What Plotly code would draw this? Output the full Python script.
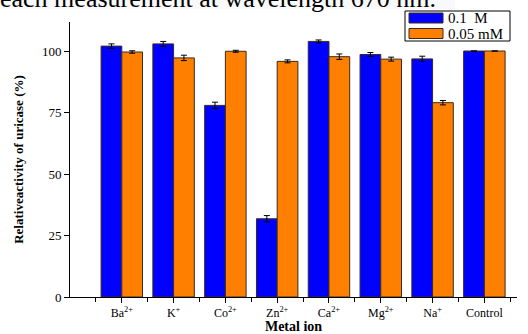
import plotly.graph_objects as go

categories = ["Ba<sup>2+</sup>", "K<sup>+</sup>", "Co<sup>2+</sup>", "Zn<sup>2+</sup>",
              "Ca<sup>2+</sup>", "Mg<sup>2+</sup>", "Na<sup>+</sup>", "Control"]
vals_01M = [102.0, 102.9, 77.9, 31.8, 103.9, 98.6, 96.8, 100.0]
err_01M = [0.9, 1.0, 1.3, 1.3, 0.6, 0.8, 1.1, None]
vals_005mM = [99.6, 97.2, 99.9, 95.8, 97.7, 96.7, 79.0, 100.0]
err_005mM = [0.5, 1.1, 0.4, 0.6, 1.1, 0.8, 0.9, None]
series_names = ["0.1  M", "0.05 mM"]
series_colors = ["#0000FF", "#FF8000"]
yticks = [0, 25, 50, 75, 100]

x = list(range(len(categories)))
serif = "Liberation Serif"
edge = "#3b2a1c"

# plot area geometry (pixels) used to convert decoration positions to paper coords
L, T, W, H = 70, 22, 447, 275
def px(xp):
    return (xp - L) / W
def py(yp):
    return (T + H - yp) / H

fig = go.Figure()
for vals, errs, name, col in [(vals_01M, err_01M, series_names[0], series_colors[0]),
                              (vals_005mM, err_005mM, series_names[1], series_colors[1])]:
    fig.add_trace(go.Bar(
        x=x, y=vals, name=name, showlegend=False, hoverinfo="skip",
        marker=dict(color=col, line=dict(color=edge, width=1)),
        error_y=dict(type="data", array=errs, color="black", thickness=1, width=3),
    ))

fig.update_layout(
    width=528, height=334,
    margin=dict(l=L, r=528 - L - W, t=T, b=334 - T - H, autoexpand=False),
    barmode="group", bargap=0.2, bargroupgap=0,
    plot_bgcolor="white", paper_bgcolor="white",
    font=dict(family=serif, color="black"),
    showlegend=False,
    xaxis=dict(
        range=[-1, 7.63], tickvals=x, ticktext=categories,
        showline=True, linecolor="black", linewidth=1,
        ticks="outside", ticklen=5, tickcolor="black",
        minor=dict(ticks="outside", tick0=0.5, dtick=1, ticklen=4, tickcolor="black"),
        tickfont=dict(size=12, family=serif),
        showgrid=False, zeroline=False, automargin=False,
        title=dict(text="<b>Metal ion</b>", font=dict(size=14, family=serif), standoff=6),
    ),
    yaxis=dict(
        range=[0, 111.8], tickvals=yticks,
        showline=True, linecolor="black", linewidth=1,
        ticks="outside", ticklen=5, tickcolor="black",
        tickfont=dict(size=13, family=serif),
        showgrid=False, zeroline=False, automargin=False,
        title=dict(text="<b>Relativeactivity of uricase (%)</b>", font=dict(size=13, family=serif), standoff=15),
    ),
)

# legend box drawn as decoration
fig.add_shape(type="rect", xref="paper", yref="paper",
              x0=px(405), x1=px(510), y0=py(41), y1=py(11),
              fillcolor="white", line=dict(color="black", width=1))
for i, (name, col) in enumerate(zip(series_names, series_colors)):
    top, bot = [(13, 23), (28.5, 38.5)][i]
    fig.add_shape(type="rect", xref="paper", yref="paper",
                  x0=px(409), x1=px(443), y0=py(bot), y1=py(top),
                  fillcolor=col, line=dict(color=edge, width=1))
    fig.add_annotation(text=name, xref="paper", yref="paper",
                       x=px(446), xanchor="left", y=py((top + bot) / 2), yanchor="middle",
                       showarrow=False, font=dict(size=15, family=serif, color="black"))

# cropped caption strip at the very top
fig.add_shape(type="rect", xref="paper", yref="paper",
              x0=px(0), x1=px(455), y0=py(9), y1=py(-5),
              fillcolor="#f8f9fa", line=dict(width=0), layer="below")
fig.add_annotation(text="each measurement at wavelength 670 nm.",
                   xref="paper", yref="paper", x=px(-2), xanchor="left",
                   y=py(15), yanchor="bottom", showarrow=False,
                   font=dict(size=26, family=serif, color="black"))

fig.write_html("out.html", config={"displayModeBar": False},
               post_script="document.body.style.margin='0';")
